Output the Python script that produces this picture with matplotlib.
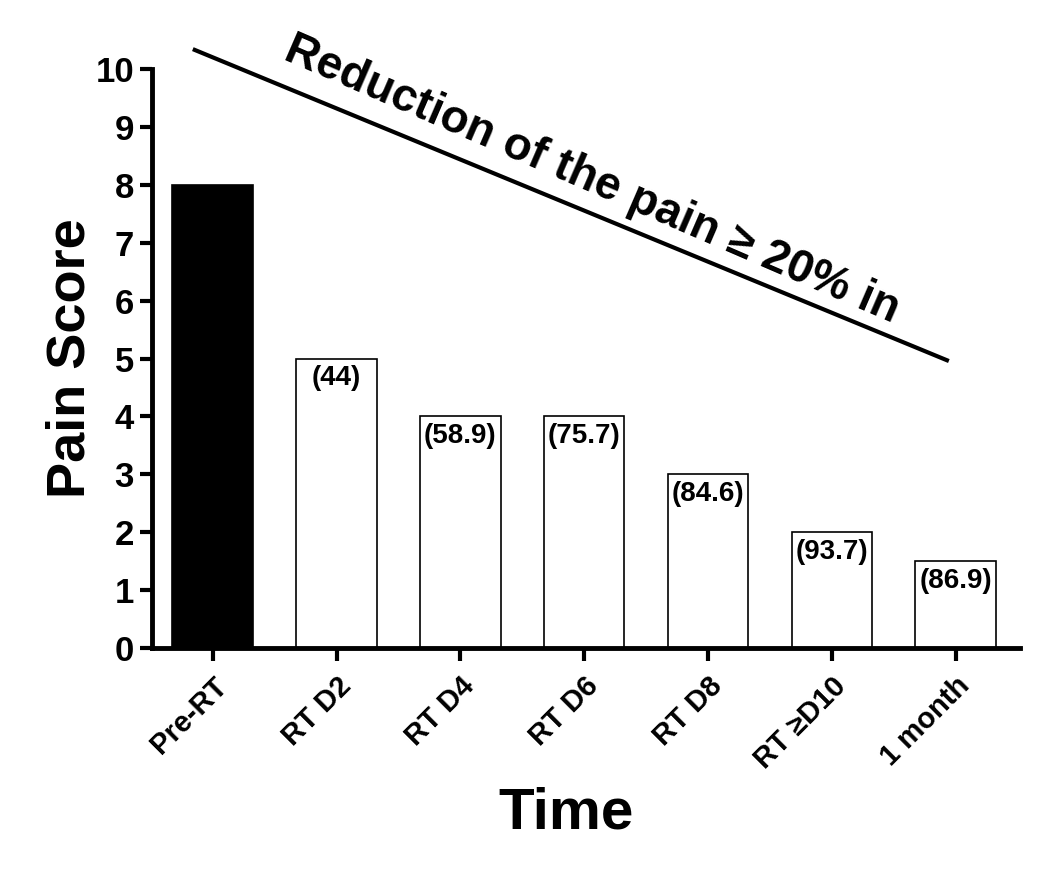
import numpy as np
import matplotlib.pyplot as plt

plt.rcParams['font.family'] = ['Liberation Sans', 'DejaVu Sans']

categories = ["Pre-RT", "RT D2", "RT D4", "RT D6", "RT D8", "RT \u2265D10", "1 month"]
pain_score = [8, 5, 4, 4, 3, 2, 1.5]
reduction_pct = [None, "(44)", "(58.9)", "(75.7)", "(84.6)", "(93.7)", "(86.9)"]
colors = ["black", "white", "white", "white", "white", "white", "white"]

fig = plt.figure(figsize=(10.5, 8.76), dpi=100)
ax = fig.add_axes([0.1448, 0.2603, 0.8266, 0.6609])

x = np.arange(len(categories))
ax.bar(x, pain_score, width=0.65, color=colors, edgecolor="black", linewidth=1.2, zorder=2)

for xi, val, lab in zip(x, pain_score, reduction_pct):
    if lab:
        ax.text(xi, val - 0.12, lab, ha="center", va="top", fontsize=20, fontweight="bold")

ax.set_xlim(-0.49, 6.52)
ax.set_ylim(0, 10)
ax.set_yticks(range(0, 11))
ax.set_xticks(x)
ax.set_xticklabels(categories, rotation=45, ha="right", rotation_mode="anchor",
                   fontsize=21, fontweight="bold")
ax.tick_params(axis="y", labelsize=25, width=3, length=9, pad=4)
ax.tick_params(axis="x", width=3, length=9, pad=8)
for lbl in ax.get_yticklabels():
    lbl.set_fontweight("bold")

for s in ["top", "right"]:
    ax.spines[s].set_visible(False)
ax.spines["left"].set_linewidth(3.5)
ax.spines["bottom"].set_linewidth(3.5)

ax.set_ylabel("Pain Score", fontsize=39, fontweight="bold", labelpad=0)
ax.set_xlabel("Time", fontsize=42, fontweight="bold")
ax.xaxis.set_label_coords(0.477, -0.24)

# diagonal trend line and label
ax.plot([-0.145, 5.93], [10.33, 4.97], color="black", lw=3, clip_on=False)
ax.text(3.06, 8.08, "Reduction of the pain \u2265 20% in", rotation=-23.4,
        rotation_mode="anchor", ha="center", va="center", fontsize=33, fontweight="bold")

plt.savefig("out.png", dpi=100)
